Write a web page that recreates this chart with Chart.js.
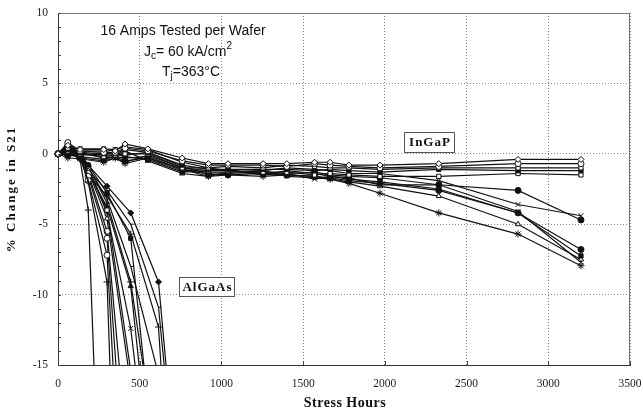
<!DOCTYPE html>
<html>
<head>
<meta charset="utf-8">
<script src="https://cdn.jsdelivr.net/npm/chart.js@4.4.1/dist/chart.umd.min.js"></script>
<style>
  html, body { margin: 0; padding: 0; background: #fff; }
</style>
</head>
<body>
<canvas id="s21Chart" width="643" height="410"></canvas>
<script>
// Stress hours at which each wafer was read
const ingapHours  = [0, 60, 135, 280, 350, 410, 550, 760, 920, 1040, 1255, 1400, 1570, 1665, 1780, 1970, 2330, 2815, 3200];
const algaasHours = [0, 60, 135, 185, 300, 445, 615, 700];

// InGaP devices (% change in S21)
const ingap01 = [0, 0.6, 0.3, 0.3, 0.2, 0.7, 0.35, -0.3, -0.7, -0.7, -0.7, -0.7, -0.6, -0.6, -0.8, -0.8, -0.7, -0.4, -0.4];
const ingap02 = [0, 0.8, 0.2, 0.1, 0.1, 0.4, 0.2, -0.5, -0.8, -0.8, -0.8, -0.9, -0.7, -0.8, -0.9, -1.0, -0.9, -0.7, -0.7];
const ingap03 = [0, 0.4, 0.35, 0.35, 0.3, 0.5, 0.3, -0.6, -1.0, -0.9, -1.0, -0.8, -0.9, -1.0, -1.0, -1.1, -1.0, -1.0, -1.0];
const ingap04 = [0, 0.3, 0.1, 0.0, 0.0, 0.3, 0.1, -0.8, -1.1, -1.1, -1.1, -1.1, -1.2, -1.1, -1.2, -1.3, -1.1, -1.2, -1.2];
const ingap05 = [0, 0.2, 0.0, -0.2, -0.1, 0.0, 0.0, -1.0, -1.2, -1.2, -1.3, -1.3, -1.5, -1.4, -1.5, -1.6, -1.6, -1.4, -1.5];
const ingap06 = [0, 0.1, 0.1, -0.3, -0.2, -0.3, -0.2, -1.1, -1.3, -1.3, -1.2, -1.0, -1.1, -1.2, -1.4, -1.4, -1.9, -3.6, -4.4];
const ingap07 = [0, 0.0, -0.1, 0.0, 0.1, -0.1, 0.1, -0.9, -1.5, -1.4, -1.3, -1.4, -1.3, -1.5, -1.6, -1.7, -2.2, -2.6, -4.7];
const ingap08 = [0, -0.1, -0.2, -0.4, -0.2, -0.5, -0.3, -1.2, -1.4, -1.5, -1.4, -1.5, -1.6, -1.7, -1.9, -2.1, -2.6, -4.2, -6.8];
const ingap09 = [0, 0.2, 0.2, 0.2, 0.0, -0.2, -0.4, -1.3, -1.2, -1.1, -1.5, -1.2, -1.4, -1.6, -1.8, -2.0, -2.5, -4.2, -7.25];
const ingap10 = [0, 0.3, 0.0, -0.1, -0.1, 0.2, -0.5, -1.4, -1.6, -1.3, -1.2, -1.6, -1.7, -1.8, -2.0, -2.3, -3.0, -5.0, -7.5];
const ingap11 = [0, 0.5, -0.3, -0.5, -0.3, -0.6, -0.1, -1.0, -1.0, -1.2, -1.5, -1.4, -1.8, -1.6, -1.7, -2.2, -2.2, -4.1, -7.7];
const ingap12 = [0, -0.3, -0.35, -0.6, -0.3, -0.7, -0.3, -1.1, -1.6, -1.5, -1.6, -1.5, -1.6, -1.8, -2.1, -2.8, -4.2, -5.7, -7.95];

// AlGaAs devices, last reading is off the bottom of the scale
const algaas01 = [0, 0.2, -0.4, -4.0, -40, null, null, null];
const algaas02 = [0, 0.5, -0.2, -2.0, -9.1, -57, null, null];
const algaas03 = [0, 0.4, -0.3, -1.9, -7.2, -38, null, null];
const algaas04 = [0, 0.6, -0.1, -1.6, -6.0, -30, null, null];
const algaas05 = [0, 0.3, 0.0, -1.4, -5.5, -24, null, null];
const algaas06 = [0, 0.2, -0.2, -1.2, -4.6, -16.4, null, null];
const algaas07 = [0, 0.4, 0.1, -1.1, -4.0, -15.4, null, null];
const algaas08 = [0, 0.7, 0.0, -1.0, -4.2, -12.4, -29, null];
const algaas09 = [0, 0.3, -0.1, -1.3, -3.8, -9.4, -28, null];
const algaas10 = [0, 0.1, -0.3, -0.9, -3.5, -9.1, -22.5, null];
const algaas11 = [0, 0.5, 0.1, -0.8, -2.8, -6.0, -25, null];
const algaas12 = [0, 0.2, 0.0, -1.0, -3.2, -8.0, -15.7, null];
const algaas13 = [0, 0.3, -0.2, -0.8, -2.3, -4.2, -9.1, -20];
const algaas14 = [0, 0.4, 0.1, -1.2, -2.6, -5.0, -10.9, -21];
const algaas15 = [0, 0.6, -0.1, -1.5, -3.0, -5.7, -12.3, -27.6];

const yTicks = [10, 5, 0, -5, -10, -15];
const xTicks = [0, 500, 1000, 1500, 2000, 2500, 3000, 3500];

const ingapSeries  = [ingap01, ingap02, ingap03, ingap04, ingap05, ingap06, ingap07, ingap08, ingap09, ingap10, ingap11, ingap12];
const algaasSeries = [algaas01, algaas02, algaas03, algaas04, algaas05, algaas06, algaas07, algaas08, algaas09, algaas10, algaas11, algaas12, algaas13, algaas14, algaas15];

// marker look per device
const ingapShapes  = ['rectRot', 'circle', 'rect', 'rect', 'rect', 'crossRot', 'circle', 'circle', 'rect', 'triangle', 'crossRot', 'star'];
const ingapFilled  = [false, false, false, true, false, false, true, true, true, false, false, false];
const algaasShapes = ['cross', 'cross', 'circle', 'circle', 'circle', 'triangle', 'rect', 'crossRot', 'triangle', 'cross', 'rect', 'dash', 'rectRot', 'dash', 'cross'];
const algaasFilled = [false, false, false, false, false, false, false, false, true, false, true, false, true, false, false];

const INK = '#111';
const SERIF = '"Liberation Serif", "DejaVu Serif", serif';
const SANS = '"Liberation Sans", Arial, sans-serif';

function toPoints(hours, values) {
    return hours.map((h, i) => ({ x: h, y: values[i] })).filter(p => p.y !== null);
}

function makeDataset(label, hours, values, shape, filled) {
    return {
        label: label,
        data: toPoints(hours, values),
        showLine: true,
        borderColor: INK,
        borderWidth: 1.2,
        pointStyle: shape,
        pointRadius: shape === 'star' || shape === 'cross' || shape === 'crossRot' ? 3.5 : 3,
        pointBorderColor: INK,
        pointBorderWidth: 1,
        pointBackgroundColor: filled ? INK : '#fff',
        clip: { left: 6, top: 6, right: 6, bottom: 0 }
    };
}

const datasets = [];
ingapSeries.forEach((vals, i) => datasets.push(makeDataset('InGaP ' + (i + 1), ingapHours, vals, ingapShapes[i], ingapFilled[i])));
algaasSeries.forEach((vals, i) => datasets.push(makeDataset('AlGaAs ' + (i + 1), algaasHours, vals, algaasShapes[i], algaasFilled[i])));

// frame, minor ticks, axis titles and the text notes on the plot
const notesPlugin = {
    id: 'notes',
    afterDraw(chart) {
        const ctx = chart.ctx;
        const a = chart.chartArea;
        const ys = chart.scales.y;
        const xs = chart.scales.x;
        ctx.save();

        // top and right frame
        ctx.strokeStyle = '#777';
        ctx.lineWidth = 1;
        ctx.beginPath();
        ctx.moveTo(a.left, a.top + 0.5);
        ctx.lineTo(a.right, a.top + 0.5);
        ctx.moveTo(a.right - 0.5, a.top);
        ctx.lineTo(a.right - 0.5, a.bottom);
        ctx.stroke();

        // minor ticks
        ctx.strokeStyle = '#444';
        ctx.beginPath();
        for (let v = -15; v <= 10; v++) {
            const y = Math.round(ys.getPixelForValue(v)) + 0.5;
            ctx.moveTo(a.left, y);
            ctx.lineTo(a.left + 3, y);
        }
        xTicks.forEach(h => {
            const x = Math.round(xs.getPixelForValue(h)) + 0.5;
            ctx.moveTo(x, a.bottom);
            ctx.lineTo(x, a.bottom - 4);
        });
        ctx.stroke();

        // axis titles
        ctx.fillStyle = INK;
        ctx.textBaseline = 'middle';
        ctx.textAlign = 'center';
        ctx.font = 'bold 14px ' + SERIF;
        ctx.letterSpacing = '0.5px';
        ctx.fillText('Stress Hours', (a.left + a.right) / 2 + 1, 403);
        ctx.save();
        ctx.translate(12, (a.top + a.bottom) / 2);
        ctx.rotate(-Math.PI / 2);
        ctx.font = 'bold 13px ' + SERIF;
        ctx.letterSpacing = '2px';
        ctx.fillText('% Change in S21', 0, 0);
        ctx.restore();
        ctx.letterSpacing = '0px';

        // test conditions
        ctx.font = '14px ' + SANS;
        ctx.fillText('16 Amps Tested per Wafer', 183, 31);

        ctx.textAlign = 'left';
        const parts1 = [['J', 14, 0], ['c', 10, 4], ['= 60 kA/cm', 14, 0], ['2', 10, -6]];
        const parts2 = [['T', 14, 0], ['j', 10, 4], ['=363\u00B0C', 14, 0]];
        [[parts1, 144, 52], [parts2, 162, 72]].forEach(([parts, x0, y0]) => {
            let x = x0;
            parts.forEach(([txt, size, dy]) => {
                ctx.font = size + 'px ' + SANS;
                ctx.fillText(txt, x, y0 + dy);
                x += ctx.measureText(txt).width;
            });
        });

        // wafer labels
        ctx.font = 'bold 13px ' + SERIF;
        ctx.textAlign = 'center';
        ctx.letterSpacing = '1px';
        [['InGaP', 404, 132, 50, 20], ['AlGaAs', 179, 277, 55, 19]].forEach(([txt, x, y, w, h]) => {
            ctx.fillStyle = '#fff';
            ctx.fillRect(x, y, w, h);
            ctx.strokeStyle = '#555';
            ctx.strokeRect(x + 0.5, y + 0.5, w, h);
            ctx.fillStyle = INK;
            ctx.fillText(txt, x + w / 2 + 1, y + h / 2 + 1);
        });
        ctx.restore();
    }
};

new Chart(document.getElementById('s21Chart'), {
    type: 'scatter',
    data: { datasets: datasets },
    options: {
        responsive: false,
        animation: false,
        layout: { padding: { top: 13, right: 13, left: 0, bottom: 0 } },
        plugins: {
            legend: { display: false },
            tooltip: { enabled: false }
        },
        scales: {
            x: {
                type: 'linear',
                min: 0,
                max: 3500,
                afterBuildTicks: (scale) => { scale.ticks = xTicks.map(v => ({ value: v })); },
                afterFit: (scale) => {
                    scale.height = 45;
                    scale.paddingLeft = 0;
                    scale.paddingRight = 0;
                },
                grid: { color: '#888', lineWidth: 1, drawTicks: false },
                border: { display: true, color: '#333', width: 1, dash: [1, 2] },
                ticks: { color: '#222', font: { family: SERIF, size: 11.5 }, padding: 12, maxRotation: 0, callback: (v) => String(v) }
            },
            y: {
                type: 'linear',
                min: -15,
                max: 10,
                afterBuildTicks: (scale) => { scale.ticks = yTicks.map(v => ({ value: v })); },
                afterFit: (scale) => {
                    scale.width = 58;
                    scale.paddingTop = 0;
                    scale.paddingBottom = 0;
                },
                grid: { color: '#888', lineWidth: 1, drawTicks: false },
                border: { display: true, color: '#333', width: 1, dash: [1, 2] },
                ticks: { color: '#222', font: { family: SERIF, size: 11.5 }, padding: 10, callback: (v) => String(v) }
            }
        }
    },
    plugins: [notesPlugin]
});
</script>
</body>
</html>
